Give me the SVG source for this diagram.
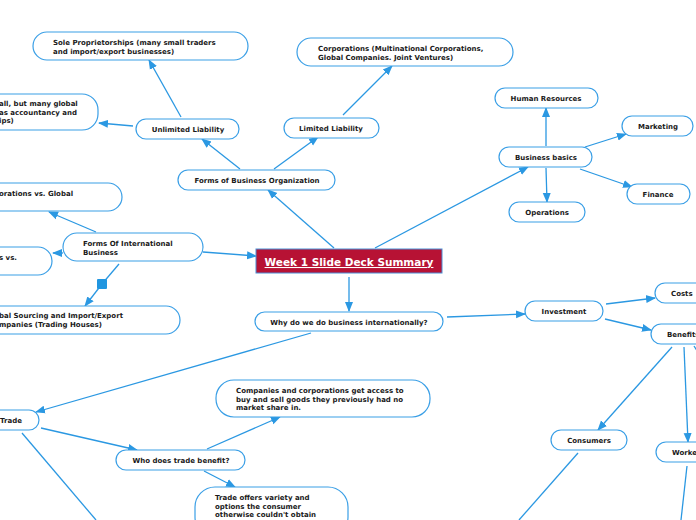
<svg xmlns="http://www.w3.org/2000/svg" width="696" height="520" viewBox="0 0 696 520">
<style>
.n{fill:#ffffff;stroke:#3a9fe6;stroke-width:1.2}
.t{font-family:"DejaVu Sans",Verdana,sans-serif;font-weight:bold;font-size:7px;fill:#1a1a1a}
.m{text-anchor:middle}
.c line{stroke:#2b98e2;stroke-width:1.3;fill:none}
.a{marker-end:url(#ar)}
</style>
<defs>
<marker id="ar" markerUnits="userSpaceOnUse" markerWidth="10" markerHeight="10" viewBox="0 0 10 10" refX="9" refY="5" orient="auto">
<path d="M0,1 L10,5 L0,9 Z" fill="#2b98e2"/>
</marker>
</defs>
<rect width="696" height="520" fill="#ffffff"/>
<g class="c" id="connectors">
<line class="a" x1="334" y1="248" x2="268" y2="190"/>
<line class="a" x1="375" y1="248" x2="528" y2="167"/>
<line class="a" x1="203" y1="252" x2="256" y2="256"/>
<line class="a" x1="349" y1="277" x2="349" y2="311"/>
<line class="a" x1="240" y1="169" x2="202" y2="139"/>
<line class="a" x1="274" y1="169" x2="318" y2="137"/>
<line class="a" x1="181" y1="117" x2="149" y2="60"/>
<line class="a" x1="133" y1="126" x2="99" y2="123"/>
<line class="a" x1="343" y1="115" x2="392" y2="66"/>
<line class="a" x1="546" y1="146" x2="546" y2="108"/>
<line class="a" x1="585" y1="147" x2="626" y2="134"/>
<line class="a" x1="580" y1="169" x2="632" y2="187"/>
<line class="a" x1="546" y1="168" x2="547" y2="202"/>
<line class="a" x1="96" y1="232" x2="49" y2="212"/>
<line class="a" x1="63" y1="253" x2="53" y2="253"/>
<line x1="119" y1="264" x2="102" y2="284"/>
<line class="a" x1="102" y1="284" x2="85" y2="306"/>
<line class="a" x1="447" y1="317" x2="525" y2="314"/>
<line class="a" x1="311" y1="333" x2="36" y2="412"/>
<line class="a" x1="606" y1="304" x2="655" y2="298"/>
<line class="a" x1="605" y1="319" x2="651" y2="330"/>
<line class="a" x1="672" y1="347" x2="598" y2="430"/>
<line class="a" x1="684" y1="347" x2="688" y2="442"/>
<line x1="694" y1="346" x2="698" y2="352"/>
<line class="a" x1="41" y1="428" x2="137" y2="450"/>
<line x1="22" y1="433" x2="96" y2="520"/>
<line class="a" x1="207" y1="449" x2="280" y2="417"/>
<line class="a" x1="204" y1="471" x2="235" y2="487"/>
<line x1="578" y1="453" x2="519" y2="520"/>
<line x1="687" y1="466" x2="681" y2="520"/>
<rect x="97" y="279" width="10" height="10" rx="1" fill="#2196e0"/>
</g>
<g id="central">
<rect x="256" y="249" width="186" height="24" fill="#b71234" stroke="#4a8fd6" stroke-width="1"/>
<text x="349" y="266" text-anchor="middle" font-family="DejaVu Sans,Verdana,sans-serif" font-weight="bold" font-size="10.5" fill="#ffffff" text-decoration="underline">Week 1 Slide Deck Summary</text>
</g>
<g id="sole">
<rect class="n" x="33" y="32" width="215" height="28" rx="14"/>
<text class="t" x="53" y="45">Sole Proprietorships (many small traders</text>
<text class="t" x="53" y="53.5">and import/export businesses)</text>
</g>
<g id="partnerships">
<rect class="n" x="-30" y="94" width="128" height="36" rx="16"/>
<text class="t" x="-1" y="106">all, but many global</text>
<text class="t" x="-1" y="114.5">as accountancy and</text>
<text class="t" x="-1" y="123">ips)</text>
</g>
<g id="unlimited">
<rect class="n" x="136" y="119" width="103" height="20" rx="10"/>
<text class="t m" x="188" y="132">Unlimited Liability</text>
</g>
<g id="limited">
<rect class="n" x="284" y="118" width="95" height="20" rx="10"/>
<text class="t m" x="331" y="131">Limited Liability</text>
</g>
<g id="corporations">
<rect class="n" x="297" y="38" width="216" height="28" rx="14"/>
<text class="t" x="318" y="51">Corporations (Multinational Corporations,</text>
<text class="t" x="318" y="59.5">Global Companies. Joint Ventures)</text>
</g>
<g id="formsorg">
<rect class="n" x="178" y="170" width="157" height="20" rx="10"/>
<text class="t m" x="257" y="183">Forms of Business Organization</text>
</g>
<g id="hr">
<rect class="n" x="495" y="88" width="103" height="20" rx="10"/>
<text class="t m" x="546" y="101">Human Resources</text>
</g>
<g id="marketing">
<rect class="n" x="622" y="116" width="71" height="20" rx="10"/>
<text class="t m" x="658" y="129">Marketing</text>
</g>
<g id="basics">
<rect class="n" x="499" y="147" width="93" height="20" rx="10"/>
<text class="t m" x="546" y="160">Business basics</text>
</g>
<g id="finance">
<rect class="n" x="627" y="184" width="63" height="20" rx="10"/>
<text class="t m" x="658" y="197">Finance</text>
</g>
<g id="operations">
<rect class="n" x="509" y="202" width="76" height="20" rx="10"/>
<text class="t m" x="547" y="215">Operations</text>
</g>
<g id="formsintl">
<rect class="n" x="63" y="233" width="140" height="28" rx="14"/>
<text class="t" x="83" y="246">Forms Of International</text>
<text class="t" x="83" y="254.5">Business</text>
</g>
<g id="multinational">
<rect class="n" x="-40" y="183" width="162" height="28" rx="14"/>
<text class="t" x="-1" y="196">orations vs. Global</text>
</g>
<g id="vs">
<rect class="n" x="-60" y="247" width="112" height="28" rx="14"/>
<text class="t" x="-1" y="260">s vs.</text>
</g>
<g id="sourcing">
<rect class="n" x="-40" y="306" width="220" height="28" rx="14"/>
<text class="t" x="-1" y="318">bal Sourcing and Import/Export</text>
<text class="t" x="-1" y="326.5">mpanies (Trading Houses)</text>
</g>
<g id="why">
<rect class="n" x="255" y="312" width="188" height="19" rx="9.5"/>
<text class="t m" x="349" y="324.5">Why do we do business internationally?</text>
</g>
<g id="investment">
<rect class="n" x="525" y="301" width="78" height="20" rx="10"/>
<text class="t m" x="564" y="314">Investment</text>
</g>
<g id="costs">
<rect class="n" x="655" y="283" width="70" height="20" rx="10"/>
<text class="t" x="671" y="296">Costs</text>
</g>
<g id="benefits">
<rect class="n" x="651" y="324" width="70" height="20" rx="10"/>
<text class="t" x="667" y="337">Benefits</text>
</g>
<g id="trade">
<rect class="n" x="-40" y="410" width="79" height="20" rx="10"/>
<text class="t" x="0" y="423">Trade</text>
</g>
<g id="companies">
<rect class="n" x="216" y="380" width="214" height="37" rx="18"/>
<text class="t" x="236" y="393">Companies and corporations get access to</text>
<text class="t" x="236" y="401.5">buy and sell goods they previously had no</text>
<text class="t" x="236" y="410">market share in.</text>
</g>
<g id="who">
<rect class="n" x="116" y="450" width="129" height="20" rx="10"/>
<text class="t m" x="181" y="463">Who does trade benefit?</text>
</g>
<g id="variety">
<rect class="n" x="195" y="487" width="153" height="50" rx="20"/>
<text class="t" x="215" y="500">Trade offers variety and</text>
<text class="t" x="215" y="508.5">options the consumer</text>
<text class="t" x="215" y="517">otherwise couldn't obtain</text>
</g>
<g id="consumers">
<rect class="n" x="551" y="430" width="76" height="20" rx="10"/>
<text class="t m" x="589" y="443">Consumers</text>
</g>
<g id="workers">
<rect class="n" x="656" y="442" width="70" height="20" rx="10"/>
<text class="t" x="672" y="455">Workers</text>
</g>
</svg>
